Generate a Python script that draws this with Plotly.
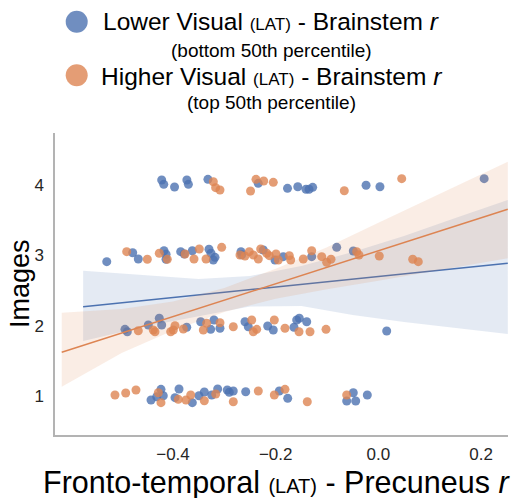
import plotly.graph_objects as go

# ---------------- data ----------------
blue_x = [
    # level 4
    -0.422, -0.418, -0.397, -0.373, -0.370, -0.332, -0.234, -0.177, -0.157, -0.141, -0.135, -0.128, -0.024, 0.003, 0.206,
    # level 3
    -0.529, -0.4785, -0.4676, -0.4175, -0.4136, -0.4136, -0.385, -0.378, -0.3624, -0.3299, -0.326, -0.3215, -0.3182,
    -0.2676, -0.2662, -0.2241, -0.2014, -0.1852, -0.1299, -0.0812, -0.0489,
    # level 2
    -0.4935, -0.489, -0.4481, -0.4267, -0.422, -0.3733, -0.3461, -0.3202, -0.3266, -0.3085, -0.2598, -0.2534,
    -0.2156, -0.2047, -0.1644, -0.1591, -0.154, -0.1396, 0.0162,
    # level 1
    -0.4428, -0.4317, -0.4234, -0.4189, -0.3961, -0.3883, -0.3624, -0.3494, -0.339, -0.3246, -0.313, -0.2943,
    -0.2904, -0.2826, -0.2584, -0.193, -0.1766, -0.0489, -0.0617, -0.0442, -0.0216,
]
blue_y = [
    4.071, 4.010, 3.972, 4.071, 4.010, 4.081, 4.024, 3.953, 3.976, 3.939, 3.939, 3.967, 3.996, 3.976, 4.090,
    2.910, 3.0375, 2.948, 3.066, 3.015, 2.944, 3.052, 3.019, 3.066, 3.086, 3.029, 2.934, 2.972,
    3.052, 3.009, 3.076, 2.934, 2.981, 2.981, 3.114, 3.062,
    1.948, 1.914, 2.010, 2.105, 2.010, 1.977, 2.056, 2.081, 1.948, 1.963, 2.056, 1.985,
    1.995, 1.938, 1.977, 2.081, 2.105, 2.056, 1.924,
    0.943, 0.990, 1.095, 1.004, 0.976, 1.100, 0.905, 1.004, 1.057, 1.014, 1.100, 1.085,
    1.053, 1.071, 1.061, 1.071, 0.967, 1.047, 0.929, 0.929, 1.014,
]

orange_x = [
    # level 4
    -0.3215, -0.317, -0.3085, -0.249, -0.2384, -0.2234, -0.2047, -0.0664, 0.0454,
    # level 3
    -0.4902, -0.45, -0.4267, -0.4111, -0.3766, -0.3591, -0.3488, -0.3357, -0.3052, -0.2695, -0.2598, -0.2514,
    -0.2436, -0.2339, -0.2292, -0.2175, -0.2125, -0.1994, -0.1949, -0.1735, -0.1708, -0.1463, -0.1299, -0.1104,
    -0.1007, -0.0923, -0.0423, -0.0378, 0.0017, 0.0668, 0.0777,
    # level 2
    -0.4676, -0.4384, -0.4351, -0.4045, -0.3994, -0.3961, -0.3799, -0.341, -0.3344, -0.3085, -0.2826, -0.2467,
    -0.2436, -0.237, -0.2027, -0.1819, -0.1546, -0.1332, -0.102,
    # level 1
    -0.513, -0.4921, -0.4721, -0.4286, -0.4234, -0.3897, -0.3747, -0.3655, -0.339, -0.3168, -0.2826, -0.2339,
    -0.2027, -0.1819, -0.1385, -0.0617,
]
orange_y = [
    4.047, 3.962, 3.929, 3.915, 4.081, 4.057, 4.038, 3.919, 4.090,
    3.052, 2.944, 3.029, 2.944, 3.019, 2.948, 3.090, 2.948, 3.114, 3.005, 2.991, 3.052,
    3.005, 2.948, 3.090, 3.029, 2.995, 3.019, 2.934, 2.995, 2.934, 2.948, 3.066, 2.981,
    2.901, 2.944, 3.052, 3.005, 2.991, 2.944, 2.910,
    1.928, 1.938, 1.914, 1.914, 1.938, 2.000, 1.953, 1.938, 2.034, 2.042, 1.985, 2.081,
    1.914, 1.948, 2.081, 1.963, 1.914, 1.914, 1.948,
    1.014, 1.043, 1.085, 1.047, 0.905, 0.953, 0.943, 1.014, 0.933, 1.028, 0.919, 1.071,
    1.014, 1.095, 0.919, 1.014,
]

# regression fits and 95% CI bands
blue_fit_x = [-0.575, -0.45, -0.35, -0.25, -0.15, -0.05, 0.05, 0.15, 0.252]
blue_fit_y = [2.270, 2.362, 2.438, 2.511, 2.587, 2.662, 2.736, 2.810, 2.887]
blue_ci_hi = [2.782, 2.718, 2.664, 2.706, 2.848, 3.047, 3.275, 3.531, 3.787]
blue_ci_lo = [1.782, 1.995, 2.138, 2.273, 2.280, 2.152, 2.052, 1.967, 1.882]

orange_fit_x = [-0.6167, -0.5, -0.4, -0.3, -0.2, -0.1, 0.0, 0.1, 0.252]
orange_fit_y = [1.621, 1.894, 2.129, 2.362, 2.597, 2.830, 3.065, 3.299, 3.655]
orange_ci_hi = [2.184, 2.237, 2.342, 2.536, 2.810, 3.114, 3.463, 3.811, 4.331]
orange_ci_lo = [1.132, 1.611, 1.930, 2.194, 2.384, 2.517, 2.638, 2.759, 2.958]

x_ticks = [-0.4, -0.2, 0.0, 0.2]
y_ticks = [1, 2, 3, 4]

legend_lines = [
    "Lower Visual <span style='font-size:17px'>(LAT)</span> - Brainstem <i>r</i>",
    "(bottom 50th percentile)",
    "Higher Visual <span style='font-size:17px'>(LAT)</span> - Brainstem <i>r</i>",
    "(top 50th percentile)",
]
x_title = "Fronto-temporal <span style='font-size:20px'>(LAT)</span> - Precuneus <i>r</i>"
y_title = "Images"

# ---------------- styling ----------------
BLUE = "#4C72B0"
ORANGE = "#DD8452"
FONT = "Liberation Sans, Arial, sans-serif"

fig = go.Figure()


def add_group(xs, ys, fx, fy, lo, hi, color, rgba_band):
    fig.add_trace(go.Scatter(
        x=xs, y=ys, mode="markers",
        marker=dict(size=9, color=color, opacity=0.8, line=dict(width=0)),
        showlegend=False, hoverinfo="skip"))
    fig.add_trace(go.Scatter(
        x=list(fx) + list(fx[::-1]), y=list(hi) + list(lo[::-1]),
        mode="lines", fill="toself", fillcolor=rgba_band,
        line=dict(width=0), showlegend=False, hoverinfo="skip"))
    fig.add_trace(go.Scatter(
        x=fx, y=fy, mode="lines", line=dict(color=color, width=1.5),
        showlegend=False, hoverinfo="skip"))


add_group(blue_x, blue_y, blue_fit_x, blue_fit_y, blue_ci_lo, blue_ci_hi,
          BLUE, "rgba(76,114,176,0.15)")
add_group(orange_x, orange_y, orange_fit_x, orange_fit_y, orange_ci_lo, orange_ci_hi,
          ORANGE, "rgba(221,132,82,0.15)")

W, H = 519, 498
L, R, T, B = 55, 11, 133, 63
pw, ph = W - L - R, H - T - B


def px_to_paper(px, py):
    return (px - L) / pw, (H - B - py) / ph


annotations = []
leg_rows = [(21.7, 24.5), (50, 19), (76.7, 24.5), (103, 19)]
for (py, fs), txt in zip(leg_rows, legend_lines):
    xp, yp = px_to_paper(271, py)
    annotations.append(dict(
        text=txt, x=xp, y=yp, xref="paper", yref="paper",
        xanchor="center", yanchor="middle", showarrow=False,
        font=dict(family=FONT, size=fs, color="#000")))

# axis titles as annotations for exact placement
xp, yp = px_to_paper(276, 482.5)
annotations.append(dict(
    text=x_title, x=xp, y=yp, xref="paper", yref="paper",
    xanchor="center", yanchor="middle", showarrow=False,
    font=dict(family=FONT, size=30.5, color="#000")))
xp, yp = px_to_paper(20, 284)
annotations.append(dict(
    text=y_title, x=xp, y=yp, xref="paper", yref="paper", textangle=-90,
    xanchor="center", yanchor="middle", showarrow=False,
    font=dict(family=FONT, size=27, color="#000")))

shapes = []
for py, col in [(21.7, "rgba(76,114,176,0.8)"), (75.3, "rgba(221,132,82,0.8)")]:
    xp, yp = px_to_paper(76.7, py)
    shapes.append(dict(
        type="circle", xref="paper", yref="paper",
        xsizemode="pixel", ysizemode="pixel",
        xanchor=xp, yanchor=yp, x0=-11, x1=11, y0=-11, y1=11,
        fillcolor=col, line=dict(width=0)))

fig.update_layout(
    width=W, height=H,
    margin=dict(l=L, r=R, t=T, b=B, autoexpand=False),
    paper_bgcolor="white", plot_bgcolor="white",
    font=dict(family=FONT, color="#262626"),
    annotations=annotations, shapes=shapes,
    showlegend=False,
)
fig.update_xaxes(
    range=[-0.6298, 0.2524], tickvals=x_ticks, tickformat=".1f",
    showgrid=False, zeroline=False, showline=True, linecolor="#b3b3b3", linewidth=1.5,
    ticks="", tickfont=dict(size=17, color="#262626"), ticklabelstandoff=3,
    automargin=False,
)
fig.update_yaxes(
    range=[0.4455, 4.7395], tickvals=y_ticks,
    showgrid=False, zeroline=False, showline=True, linecolor="#b3b3b3", linewidth=1.5,
    ticks="", tickfont=dict(size=17, color="#262626"), ticklabelstandoff=6,
    automargin=False,
)

fig.write_html(
    "out.html",
    config={"displayModeBar": False},
    post_script="document.body.style.margin='0';document.body.style.overflow='hidden';",
)
